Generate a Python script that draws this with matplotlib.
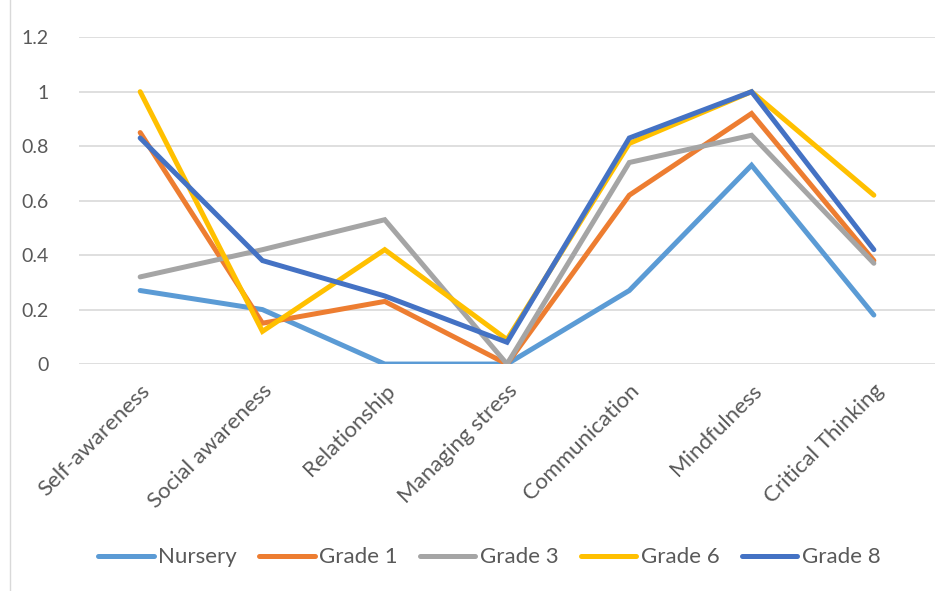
import matplotlib.pyplot as plt
from matplotlib.patches import Rectangle

# categories and series
categories = ['Self-awareness', 'Social awareness', 'Relationship', 'Managing stress',
              'Communication', 'Mindfulness', 'Critical Thinking']
nursery = [0.27, 0.20, 0.0, 0.0, 0.27, 0.73, 0.18]
grade1 = [0.85, 0.15, 0.23, 0.0, 0.62, 0.92, 0.38]
grade3 = [0.32, 0.42, 0.53, 0.0, 0.74, 0.84, 0.37]
grade6 = [1.0, 0.12, 0.42, 0.09, 0.81, 1.0, 0.62]
grade8 = [0.83, 0.38, 0.25, 0.08, 0.83, 1.0, 0.42]
series_names = ['Nursery', 'Grade 1', 'Grade 3', 'Grade 6', 'Grade 8']
yticks = [0, 0.2, 0.4, 0.6, 0.8, 1, 1.2]
ytick_labels = ['0', '0.2', '0.4', '0.6', '0.8', '1', '1.2']

colors = ['#5B9BD5', '#ED7D31', '#A5A5A5', '#FFC000', '#4472C4']
text_col = '#595959'

plt.rcParams['font.family'] = ['Lato', 'DejaVu Sans']

fig = plt.figure(figsize=(9.5, 5.91), dpi=100)
ax = fig.add_axes([0.0832, 0.384, 0.901, 0.553])

x = range(len(categories))
for vals, name, c in zip([nursery, grade1, grade3, grade6, grade8], series_names, colors):
    ax.plot(x, vals, color=c, lw=3.6, label=name, solid_capstyle='round', solid_joinstyle='miter')

ax.set_xlim(-0.5, len(categories) - 0.5)
ax.set_ylim(0, 1.2)
ax.set_yticks(yticks)
ax.set_yticklabels(ytick_labels)
ax.set_xticks(list(x))
ax.set_xticklabels(categories, rotation=45, ha='right', rotation_mode='anchor')
ax.tick_params(length=0, labelsize=14, colors=text_col)
ax.tick_params(axis='x', labelsize=16, pad=12)
ax.tick_params(axis='y', pad=22)
ax.grid(axis='y', color='#D9D9D9', lw=1.2)
ax.set_axisbelow(True)
for s in ax.spines.values():
    s.set_visible(False)

fig.legend(loc='center', bbox_to_anchor=(0.515, 0.057), ncol=5, frameon=False,
           fontsize=16, handlelength=2.5, columnspacing=1.0, handletextpad=0.2,
           labelcolor=text_col)

# chart area border
fig.patches.append(Rectangle((0.01, -0.01), 0.995, 1.02, transform=fig.transFigure,
                             fill=False, edgecolor='#D9D9D9', lw=1))

fig.savefig('out.png', dpi=100)
